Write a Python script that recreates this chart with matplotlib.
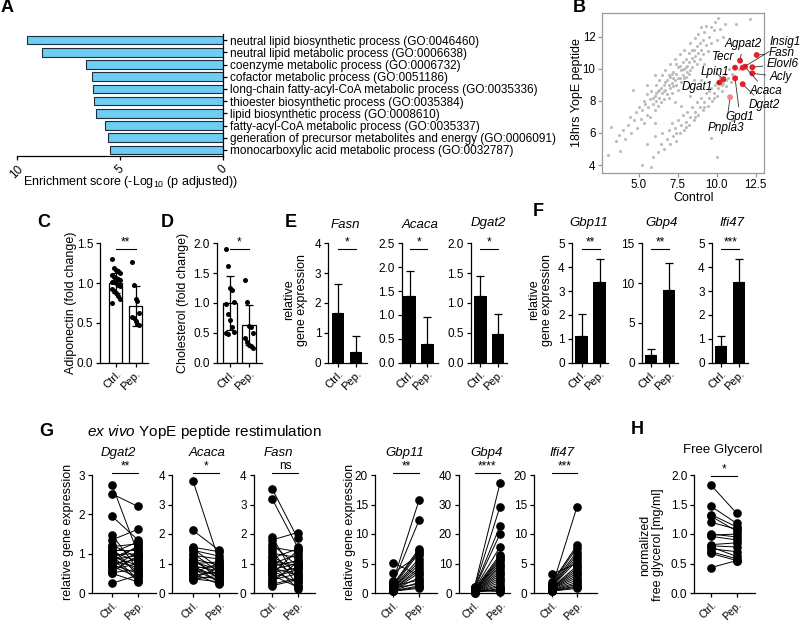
import numpy as np
import matplotlib
matplotlib.use("Agg")
import matplotlib.pyplot as plt
from matplotlib.ticker import FormatStrFormatter

plt.rcParams["font.family"] = ["Liberation Sans", "DejaVu Sans"]
plt.rcParams["mathtext.fontset"] = "custom"
plt.rcParams["mathtext.rm"] = "Liberation Sans"
plt.rcParams["mathtext.it"] = "Liberation Sans:italic"

# ---------------- data ----------------
# A: GO enrichment
go_terms = [
    "neutral lipid biosynthetic process (GO:0046460)",
    "neutral lipid metabolic process (GO:0006638)",
    "coenzyme metabolic process (GO:0006732)",
    "cofactor metabolic process (GO:0051186)",
    "long-chain fatty-acyl-CoA metabolic process (GO:0035336)",
    "thioester biosynthetic process (GO:0035384)",
    "lipid biosynthetic process (GO:0008610)",
    "fatty-acyl-CoA metabolic process (GO:0035337)",
    "generation of precursor metabolites and energy (GO:0006091)",
    "monocarboxylic acid metabolic process (GO:0032787)",
]
go_scores = [9.53, 8.8, 6.67, 6.36, 6.33, 6.28, 6.17, 5.74, 5.6, 5.47]

# B: scatter Control vs 18hrs YopE peptide (gray background genes)
gray_points = [
    (3.0, 4.6), (3.2, 6.4), (3.5, 5.5), (3.7, 5.9), (3.8, 4.9), (4.0, 6.2), (4.1, 5.6), (4.3, 6.5),
    (4.4, 7.0), (4.5, 6.0), (4.6, 8.7), (4.7, 6.8), (4.8, 7.3), (4.9, 6.3), (5.0, 7.6), (5.1, 6.9),
    (5.2, 7.4), (5.3, 8.0), (5.3, 6.6), (5.4, 7.8), (5.5, 7.1), (5.5, 8.4), (5.6, 7.6), (5.7, 8.1),
    (5.7, 7.0), (5.8, 8.6), (5.9, 7.8), (6.0, 8.3), (6.0, 7.4), (6.1, 9.0), (6.1, 8.0), (6.2, 8.6),
    (6.2, 7.7), (6.3, 8.2), (6.3, 9.3), (6.4, 8.8), (6.4, 7.9), (6.5, 8.5), (6.5, 9.6), (6.6, 8.1),
    (6.6, 9.0), (6.7, 8.7), (6.7, 9.9), (6.8, 8.4), (6.8, 9.3), (6.9, 9.0), (6.9, 8.2), (7.0, 9.5),
    (7.0, 8.8), (7.0, 10.3), (7.1, 9.1), (7.1, 8.5), (7.2, 9.8), (7.2, 8.9), (7.3, 9.3), (7.3, 10.6),
    (7.4, 9.0), (7.4, 9.7), (7.5, 10.1), (7.5, 8.7), (7.6, 9.4), (7.6, 10.9), (7.7, 9.9), (7.7, 9.2),
    (7.8, 10.4), (7.8, 9.6), (7.9, 10.0), (7.9, 11.2), (8.0, 9.5), (8.0, 10.6), (8.1, 10.2), (8.1, 9.8),
    (8.2, 11.0), (8.2, 10.4), (8.3, 9.9), (8.3, 11.6), (8.4, 10.7), (8.4, 10.1), (8.5, 11.2), (8.5, 10.5),
    (8.6, 11.9), (8.6, 10.8), (8.7, 10.3), (8.7, 11.4), (8.8, 11.0), (8.8, 12.2), (8.9, 10.6), (8.9, 11.6),
    (9.0, 11.2), (9.0, 12.6), (9.1, 10.9), (9.1, 11.8), (9.2, 12.3), (9.3, 11.5), (9.3, 12.7), (9.4, 11.1),
    (9.5, 12.0), (9.6, 12.6), (9.6, 11.6), (9.8, 12.4), (9.9, 12.9), (10.0, 11.8), (10.1, 13.2), (10.2, 12.5),
    (10.4, 12.0), (10.5, 12.8), (6.0, 9.6), (5.5, 9.0), (7.3, 7.9), (8.5, 9.3), (9.2, 10.3),
    (6.6, 8.6), (6.9, 9.6), (7.2, 9.4), (7.5, 9.4), (7.8, 10.0), (8.0, 10.1), (7.1, 9.7), (6.7, 9.2),
    (7.4, 10.3), (7.9, 9.4), (8.2, 9.7), (6.3, 8.7), (6.1, 8.5), (5.9, 8.2), (7.6, 10.2), (8.4, 11.2),
    (5.2, 4.0), (5.5, 5.3), (5.9, 4.5), (6.0, 5.8), (6.2, 4.8), (6.4, 5.3), (6.5, 6.0), (6.6, 5.0),
    (6.8, 5.6), (6.9, 6.2), (7.0, 5.3), (7.1, 6.6), (7.2, 5.8), (7.3, 6.3), (7.4, 5.5), (7.5, 6.8),
    (7.6, 6.0), (7.7, 6.5), (7.8, 7.1), (7.9, 6.2), (8.0, 6.7), (8.1, 7.3), (8.2, 6.5), (8.3, 7.0),
    (8.4, 7.6), (8.5, 6.8), (8.6, 7.3), (8.7, 7.9), (8.8, 7.1), (8.9, 7.6), (9.0, 8.2), (9.1, 7.4),
    (9.2, 7.9), (9.3, 8.5), (9.4, 7.7), (9.5, 8.2), (9.6, 8.8), (9.7, 8.0), (9.8, 8.5), (9.9, 9.0),
    (10.0, 8.3), (10.1, 8.8), (10.2, 9.4), (10.3, 8.6), (10.4, 9.1), (10.5, 9.7), (10.6, 8.9), (10.7, 9.4),
    (10.8, 10.0), (10.9, 9.2), (11.0, 9.7), (11.1, 10.2), (11.2, 9.5), (11.4, 10.0), (10.0, 4.5), (9.6, 5.7),
    (11.0, 6.8), (12.1, 13.1), (11.2, 12.8), (8.3, 8.3), (9.0, 9.3), (7.7, 7.7), (6.0, 6.6), (5.8, 3.9),
    (8.6, 7.0), (9.2, 7.6), (9.8, 8.2), (10.3, 9.0), (8.0, 6.4), (7.4, 6.0), (10.6, 9.3), (9.5, 8.6),
]
lipid_genes = ["Fasn", "Agpat2", "Insig1", "Tecr", "Acaca", "Elovl6", "Acly", "Gpd1", "Lpin1",
               "Dgat1", "Dgat2", "Pnpla3"]
lipid_ctrl = [12.56, 11.49, 11.66, 11.17, 11.81, 12.28, 12.28, 11.17, 10.42, 10.16, 11.66, 10.85]
lipid_pep = [10.86, 10.51, 10.07, 10.07, 10.13, 10.10, 9.72, 9.41, 9.35, 9.14, 9.04, 8.23]

# C / D: serum measurements
adipo_ctrl = [1.30, 1.19, 1.17, 1.15, 1.13, 1.10, 1.08, 1.06, 1.05, 1.04, 1.02, 1.01, 1.00, 0.98,
              0.96, 0.93, 0.90, 0.87, 0.84, 0.80, 0.75]
adipo_pep = [1.26, 0.97, 0.80, 0.78, 0.62, 0.58, 0.56, 0.52, 0.48, 0.47]
adipo_mean = [1.00, 0.71]
adipo_sd = [0.13, 0.25]
chol_ctrl = [1.90, 1.62, 1.25, 1.21, 1.02, 0.98, 0.82, 0.72, 0.60, 0.52, 0.50, 0.48]
chol_pep = [1.38, 1.02, 0.62, 0.60, 0.50, 0.42, 0.35, 0.30, 0.28, 0.25]
chol_mean = [1.00, 0.63]
chol_sd = [0.45, 0.33]

# E / F: relative gene expression in vivo (mean, SD)
bar_genes = ["Fasn", "Acaca", "Dgat2", "Gbp11", "Gbp4", "Ifi47"]
bar_mean = [[1.65, 0.35], [1.40, 0.40], [1.115, 0.48], [1.13, 3.36], [0.98, 9.15], [0.71, 3.40]]
bar_sd = [[0.98, 0.54], [0.52, 0.56], [0.345, 0.33], [0.89, 0.99], [0.72, 3.40], [0.39, 0.95]]
bar_sig = ["*", "*", "*", "**", "**", "***"]

# G: ex vivo restimulation, paired
g_genes = ["Dgat2", "Acaca", "Fasn", "Gbp11", "Gbp4", "Ifi47"]
g_sig = ["**", "*", "ns", "**", "****", "***"]
g_ctrl = [
    [2.75, 2.52, 1.95, 1.48, 1.35, 1.22, 1.18, 1.15, 1.10, 1.05, 1.02, 1.00, 0.97, 0.95, 0.92,
     0.90, 0.88, 0.85, 0.82, 0.80, 0.75, 0.72, 0.68, 0.65, 0.60, 0.55, 0.52, 0.50, 0.25],
    [3.80, 2.12, 1.55, 1.50, 1.45, 1.35, 1.28, 1.20, 1.15, 1.10, 1.05, 1.00, 0.95, 0.92, 0.88,
     0.85, 0.80, 0.75, 0.70, 0.65, 0.60, 0.55, 0.50, 0.48, 0.45],
    [3.52, 3.18, 1.90, 1.80, 1.65, 1.55, 1.45, 1.35, 1.25, 1.18, 1.10, 1.05, 1.00, 0.95, 0.90,
     0.85, 0.80, 0.75, 0.70, 0.65, 0.60, 0.52, 0.45, 0.38, 0.30, 0.25],
    [5.1, 3.4, 2.1, 1.8, 1.5, 1.3, 1.2, 1.1, 1.0, 0.9, 0.85, 0.8, 0.7, 0.6, 0.55, 0.5, 0.45, 0.4,
     0.35, 0.3],
    [2.1, 1.9, 1.7, 1.5, 1.3, 1.2, 1.1, 1.0, 0.9, 0.8, 0.7, 0.6, 0.5, 0.45, 0.4, 0.35, 0.3, 0.25,
     0.2, 0.15, 0.1, 0.3, 0.6, 0.9],
    [3.2, 1.8, 1.6, 1.4, 1.3, 1.2, 1.1, 1.0, 0.95, 0.9, 0.85, 0.8, 0.75, 0.7, 0.6, 0.5, 0.45, 0.4,
     0.35, 0.3],
]
g_pep = [
    [1.00, 2.20, 1.35, 0.60, 1.62, 0.90, 1.25, 0.45, 1.10, 0.80, 1.30, 0.55, 1.00, 0.35, 0.70,
     1.15, 0.30, 0.95, 0.65, 1.20, 0.85, 0.50, 0.40, 1.05, 0.75, 0.95, 0.60, 0.28, 0.45],
    [1.10, 1.45, 1.40, 0.85, 1.25, 0.70, 1.15, 0.45, 0.95, 0.60, 0.80, 1.05, 0.35, 0.75, 0.55,
     0.90, 0.40, 0.65, 1.00, 0.30, 0.72, 0.50, 0.85, 0.38, 0.62],
    [1.85, 1.55, 0.40, 2.05, 0.90, 1.40, 0.25, 1.20, 0.70, 1.50, 0.55, 0.95, 1.30, 0.15, 1.10,
     0.60, 1.00, 0.35, 0.85, 1.45, 0.20, 0.80, 0.65, 1.05, 0.50, 0.45],
    [3.0, 6.4, 15.7, 12.3, 7.5, 7.2, 2.2, 6.8, 5.8, 1.5, 5.3, 4.8, 3.8, 4.3, 2.6, 3.4, 1.8, 1.2,
     1.0, 0.8],
    [37.2, 29.3, 22.7, 20.0, 15.7, 13.0, 12.2, 11.5, 10.8, 10.0, 9.2, 8.5, 7.6, 6.8, 6.0, 5.2, 4.4,
     3.6, 2.8, 2.2, 1.6, 1.2, 0.8, 0.5],
    [5.0, 8.1, 7.7, 7.0, 6.5, 6.0, 5.5, 14.6, 4.6, 4.2, 3.8, 3.4, 3.0, 2.6, 2.2, 1.8, 1.5, 1.2,
     1.0, 0.8],
]
g_ylim = [3, 4, 4, 20, 40, 20]
g_ystep = [1, 1, 1, 5, 10, 5]

# H: free glycerol
gly_ctrl = [1.83, 1.47, 1.33, 1.30, 1.20, 1.00, 0.98, 0.96, 0.82, 0.80, 0.78, 0.75, 0.70, 0.67, 0.43]
gly_pep = [1.35, 1.18, 1.12, 1.05, 1.08, 0.95, 1.00, 0.90, 0.85, 0.78, 0.62, 0.70, 0.58, 0.55, 0.55]

# ---------------- layout helpers ----------------
W, H = 800, 624
fig = plt.figure(figsize=(W / 100, H / 100), dpi=100)
TICK = 8.5
LAB = 9
G_TOP, G_BOT = 475, 593


def px_axes(l, t, r, b):
    return fig.add_axes([l / W, 1 - b / H, (r - l) / W, (b - t) / H])


def ftext(x, y, s, **kw):
    kw.setdefault("ha", "center")
    kw.setdefault("va", "center")
    fig.text(x / W, 1 - y / H, s, **kw)


def style(ax):
    for side in ["top", "right"]:
        ax.spines[side].set_visible(False)
    for side in ["left", "bottom"]:
        ax.spines[side].set_linewidth(0.9)
    ax.tick_params(direction="out", length=3, width=0.9, labelsize=TICK, pad=2)


def pair_xlim(ax, l, c, p, r):
    unit = p - c
    ax.set_xlim(-(c - l) / unit, 1 + (r - p) / unit)
    return unit


def ctrl_pep_ticks(ax, size=8):
    ax.set_xticks([0, 1])
    ax.set_xticklabels(["Ctrl.", "Pep."], rotation=45, ha="right", rotation_mode="anchor",
                       fontsize=size)
    ax.tick_params(axis="x", pad=1.5)


def sig_bar(ax, text, yfrac, size=8.5):
    tr = ax.get_xaxis_transform()
    ax.plot([0, 1], [yfrac, yfrac], color="black", lw=0.8, transform=tr, clip_on=False)
    ax.text(0.5, yfrac + 0.005, text, transform=tr, ha="center", va="bottom", fontsize=size)


# ---------------- A ----------------
ax = px_axes(17, 34, 223, 156)
ax.barh(range(len(go_scores)), go_scores, height=0.72, color="#6dcdf2", edgecolor="#1f2d3a", lw=0.8)
ax.set_xlim(10, 0)
ax.set_ylim(len(go_scores) - 0.5, -0.5)
ax.yaxis.tick_right()
ax.set_yticks(range(len(go_terms)))
ax.set_yticklabels(go_terms, fontsize=7.4)
ax.set_xticks([10, 5, 0])
ax.set_xticklabels(["10", "5", "0"], rotation=45, ha="center")
for side in ["top", "left"]:
    ax.spines[side].set_visible(False)
for side in ["right", "bottom"]:
    ax.spines[side].set_linewidth(0.9)
ax.tick_params(direction="out", length=3, width=0.9, labelsize=TICK, pad=2)
ftext(131, 182, r"Enrichment score (-Log$_{10}$ (p adjusted))", fontsize=9)

# ---------------- B ----------------
ax = px_axes(601.7, 12.7, 764, 172.7)
gx, gy = zip(*gray_points)
ax.scatter(gx, gy, s=5, color="#bdbdbd", lw=0, zorder=1)
colors = ["#e8202a"] * (len(lipid_genes) - 1) + ["#f2858a"]
ax.scatter(lipid_ctrl, lipid_pep, s=18, color=colors, lw=0, zorder=3)
ax.set_xlim(2.6, 13.03)
ax.set_ylim(3.52, 13.5)
ax.set_xticks([5.0, 7.5, 10.0, 12.5])
ax.xaxis.set_major_formatter(FormatStrFormatter("%.1f"))
ax.set_yticks([4, 6, 8, 10, 12])
for sp in ax.spines.values():
    sp.set_color("#9a9a9a")
    sp.set_linewidth(0.9)
ax.tick_params(direction="out", length=3, width=0.9, color="#9a9a9a", labelsize=8.3, pad=1.5)
ftext(577, 93, "18hrs YopE peptide", rotation=90, fontsize=9)
ftext(694, 198, "Control", fontsize=9)
label_pos = {
    "Fasn": (782, 53), "Agpat2": (743, 44), "Insig1": (785, 42), "Tecr": (723, 57),
    "Acaca": (766, 91), "Elovl6": (783, 64), "Acly": (781, 77), "Gpd1": (740, 117),
    "Lpin1": (715, 72), "Dgat1": (697, 87), "Dgat2": (764, 105), "Pnpla3": (726, 128),
}
for g, x, y in zip(lipid_genes, lipid_ctrl, lipid_pep):
    lx, ly = label_pos[g]
    ax.annotate(g, xy=(x, y), xytext=(lx, H - ly), textcoords="figure pixels",
                ha="center", va="center", fontsize=8.5, style="italic",
                arrowprops=dict(arrowstyle="-", color="#333333", lw=0.6, shrinkA=1, shrinkB=2),
                annotation_clip=False)

# ---------------- C / D ----------------
cd_specs = [
    (100, 115.8, 135.5, 148, 13, adipo_mean, adipo_sd, adipo_ctrl, adipo_pep, 1.5,
     [0, 0.5, 1.0, 1.5], "**", "Adiponectin (fold change)", 71),
    (216.7, 230, 249, 261.7, 13.4, chol_mean, chol_sd, chol_ctrl, chol_pep, 2.0,
     [0, 0.5, 1.0, 1.5, 2.0], "*", "Cholesterol (fold change)", 183),
]
for l, c, p, r, wpx, means, sds, dc, dp, ytop, yt, sig, ylab, ylx in cd_specs:
    ax = px_axes(l, 243.3, r, 362.7)
    style(ax)
    unit = pair_xlim(ax, l, c, p, r)
    ax.bar([0, 1], means, width=wpx / unit, color="white", edgecolor="black", lw=0.9, zorder=1)
    ax.errorbar([0, 1], means, yerr=sds, fmt="none", ecolor="black", elinewidth=0.9,
                capsize=3, capthick=0.9, zorder=4)
    for xi, vals in [(0, dc), (1, dp)]:
        offs = [((i % 5) - 2) * 0.1 for i in range(len(vals))]
        ax.scatter(np.array(offs) + xi, vals, s=13, color="black", lw=0, zorder=3)
    ax.set_ylim(0, ytop)
    ax.set_yticks(yt)
    ax.yaxis.set_major_formatter(FormatStrFormatter("%.1f"))
    ctrl_pep_ticks(ax)
    sig_bar(ax, sig, 0.95)
    ftext(ylx, 303, ylab, rotation=90, fontsize=LAB)

# ---------------- E / F ----------------
ef_specs = [
    (328.3, 338, 356, 366.7, 4, 1, "%d", (345, 225)),
    (401.7, 409.7, 427.5, 438, 2.5, 0.5, "%.1f", (420, 225)),
    (470.7, 480.3, 498, 507, 2.0, 0.5, "%.1f", (488, 223)),
    (571.7, 581.7, 599.5, 608, 5, 1, "%d", (589, 223)),
    (641.7, 651.2, 668.8, 678, 15, 5, "%d", (662, 223)),
    (711.7, 721.2, 739.2, 748, 5, 1, "%d", (732, 223)),
]
for i, (l, c, p, r, ytop, step, fmt, tpos) in enumerate(ef_specs):
    ax = px_axes(l, 243.3, r, 362.7)
    style(ax)
    unit = pair_xlim(ax, l, c, p, r)
    means = bar_mean[i]
    ax.bar([0, 1], means, width=12.5 / unit, color="black", lw=0, zorder=2)
    ax.errorbar([0, 1], means, yerr=[[0, 0], bar_sd[i]], fmt="none", ecolor="black",
                elinewidth=0.9, capsize=3, capthick=0.9, zorder=1)
    ax.set_ylim(0, ytop)
    ax.set_yticks(np.arange(0, ytop + step / 2, step))
    ax.yaxis.set_major_formatter(FormatStrFormatter(fmt))
    ctrl_pep_ticks(ax)
    sig_bar(ax, bar_sig[i], 0.95)
    ftext(tpos[0], tpos[1], bar_genes[i], style="italic", fontsize=9.5)
ftext(296, 300, "relative\ngene expression", rotation=90, fontsize=LAB, linespacing=1.1)
ftext(541, 300, "relative\ngene expression", rotation=90, fontsize=LAB, linespacing=1.1)

# ---------------- G ----------------
g_specs = [
    (92, 112, 138, 156, (118, 453)),
    (172, 193, 219, 237, (207, 453)),
    (253.5, 272.3, 297.7, 315, (278, 453)),
    (375, 393.3, 419, 437, (405, 453)),
    (459, 474.5, 500, 510, (487, 453)),
    (534, 552, 577, 597, (562, 453)),
]
for i, (l, c, p, r, tpos) in enumerate(g_specs):
    ax = px_axes(l, G_TOP, r, G_BOT)
    style(ax)
    pair_xlim(ax, l, c, p, r)
    n = len(g_ctrl[i])
    xs = np.vstack([np.zeros(n), np.ones(n)])
    ys = np.vstack([g_ctrl[i], g_pep[i]])
    ax.plot(xs, ys, "-o", color="black", lw=0.7, ms=5.2, clip_on=False)
    ax.set_ylim(0, g_ylim[i])
    ax.set_yticks(np.arange(0, g_ylim[i] + 1e-9, g_ystep[i]))
    ctrl_pep_ticks(ax, size=7.6)
    sig_bar(ax, g_sig[i], 1.02)
    ftext(tpos[0], tpos[1], g_genes[i], style="italic", fontsize=9.5)
ftext(68, 532, "relative gene expression", rotation=90, fontsize=LAB)
ftext(350, 532, "relative gene expression", rotation=90, fontsize=LAB)
ftext(87, 432, r"$\it{ex\ vivo}$ YopE peptide restimulation", ha="left", fontsize=11)

# ---------------- H ----------------
ax = px_axes(694.3, G_TOP, 755, G_BOT)
style(ax)
pair_xlim(ax, 694.3, 711, 736.7, 755)
n = len(gly_ctrl)
ax.plot(np.vstack([np.zeros(n), np.ones(n)]), np.vstack([gly_ctrl, gly_pep]), "-o",
        color="black", lw=0.7, ms=5.2, clip_on=False)
ax.set_ylim(0, 2.0)
ax.set_yticks([0, 0.5, 1.0, 1.5, 2.0])
ax.yaxis.set_major_formatter(FormatStrFormatter("%.1f"))
ctrl_pep_ticks(ax, size=7.6)
sig_bar(ax, "*", 0.99)
ftext(723, 450, "Free Glycerol", fontsize=9.5)
ftext(652, 545, "normalized\nfree glycerol [mg/ml]", rotation=90, fontsize=LAB, linespacing=1.1)

# ---------------- panel letters ----------------
for letter, (x, y) in {"A": (7, 8), "B": (579, 7), "C": (44, 222), "D": (167, 222),
                       "E": (291, 222), "F": (538, 211), "G": (46, 431), "H": (637, 430)}.items():
    ftext(x, y, letter, fontsize=13, fontweight="bold")

fig.savefig("out.png", dpi=100)
